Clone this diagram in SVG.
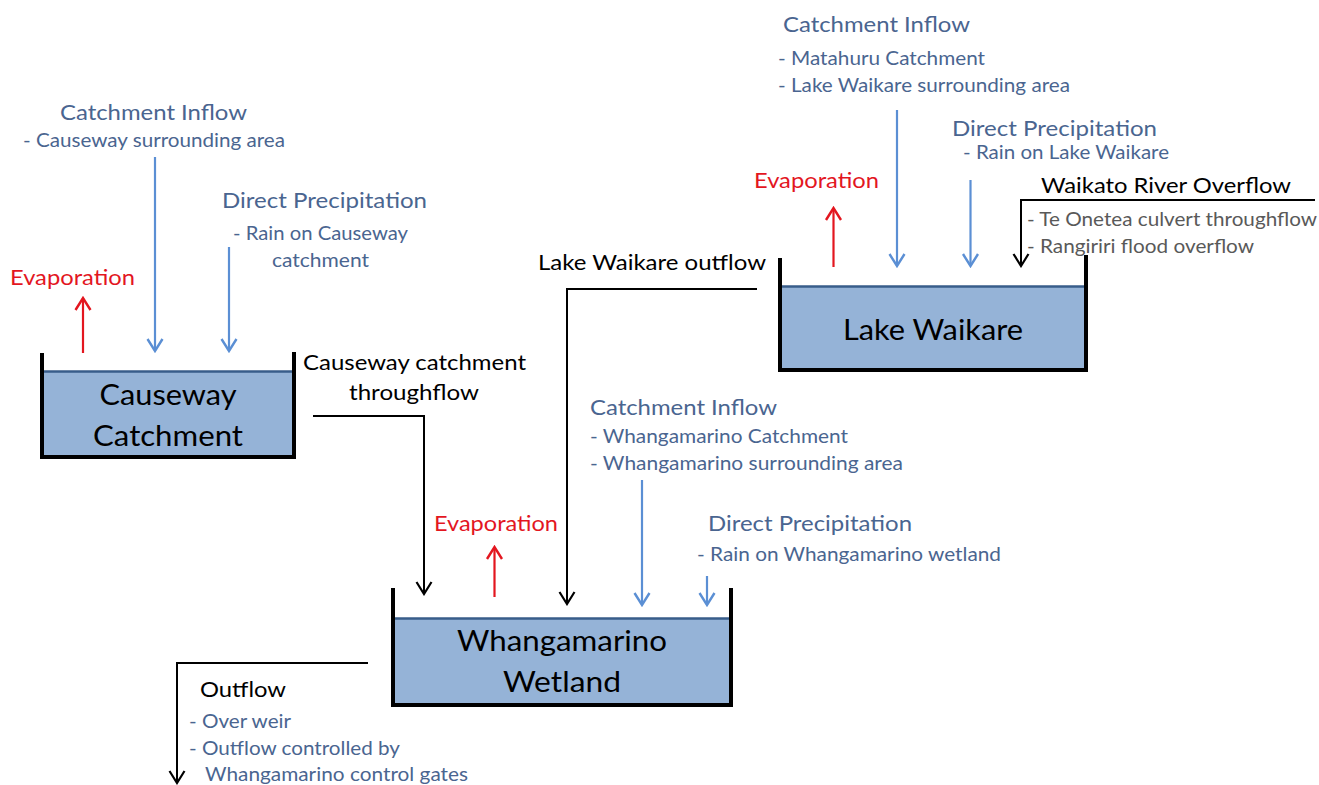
<svg xmlns="http://www.w3.org/2000/svg" width="1319" height="785" viewBox="0 0 1319 785">
<defs>
<style>
text{font-family:Lato,"Open Sans","Liberation Sans",sans-serif}
.h{font-size:21px;fill:#4a6590}
.s{font-size:19px;fill:#4a6590}
.r{font-size:21px;fill:#e3161f}
.k{font-size:21px;fill:#000}
.g{font-size:19px;fill:#595959}
.t{font-size:29px;fill:#000;text-anchor:middle}
.wall{fill:none;stroke:#000;stroke-width:4}
.water{fill:#95b3d7}
.wl{stroke:#385d8a;stroke-width:2.5}
.ab{fill:none;stroke:#5b8fd4;stroke-width:2.2;marker-end:url(#mb)}
.ar{fill:none;stroke:#e3161f;stroke-width:2.2;marker-end:url(#mr)}
.ak{fill:none;stroke:#000;stroke-width:2;marker-end:url(#mk)}
</style>
<marker id="mb" viewBox="-14 -10 16 20" refX="0" refY="0" markerWidth="16" markerHeight="20" markerUnits="userSpaceOnUse" orient="auto"><path d="M-12,-7.5 L0,0 L-12,7.5" fill="none" stroke="#5b8fd4" stroke-width="2.4"/></marker>
<marker id="mr" viewBox="-14 -10 16 20" refX="0" refY="0" markerWidth="16" markerHeight="20" markerUnits="userSpaceOnUse" orient="auto"><path d="M-12,-7.5 L0,0 L-12,7.5" fill="none" stroke="#e3161f" stroke-width="2.4"/></marker>
<marker id="mk" viewBox="-14 -10 16 20" refX="0" refY="0" markerWidth="16" markerHeight="20" markerUnits="userSpaceOnUse" orient="auto"><path d="M-12,-7.5 L0,0 L-12,7.5" fill="none" stroke="#000" stroke-width="2.2"/></marker>
</defs>
<rect width="1319" height="785" fill="#fff"/>

<g id="causeway-catchment">
<rect class="water" x="44" y="371" width="249" height="85"/>
<line class="wl" x1="44" y1="371.5" x2="293" y2="371.5"/>
<path class="wall" d="M42,353 L42,457 L294,457 L294,352"/>
<text class="t" x="168" y="405" textLength="137" lengthAdjust="spacingAndGlyphs">Causeway</text>
<text class="t" x="168" y="446" textLength="150" lengthAdjust="spacingAndGlyphs">Catchment</text>
</g>

<g id="lake-waikare">
<rect class="water" x="782" y="286" width="302" height="82"/>
<line class="wl" x1="782" y1="286.5" x2="1084" y2="286.5"/>
<path class="wall" d="M780,258 L780,370 L1086,370 L1086,255"/>
<text class="t" x="933" y="340" textLength="180" lengthAdjust="spacingAndGlyphs">Lake Waikare</text>
</g>

<g id="whangamarino-wetland">
<rect class="water" x="395" y="618" width="334" height="85"/>
<line class="wl" x1="395" y1="618.5" x2="729" y2="618.5"/>
<path class="wall" d="M393,588 L393,705 L731,705 L731,588"/>
<text class="t" x="562" y="651" textLength="210" lengthAdjust="spacingAndGlyphs">Whangamarino</text>
<text class="t" x="562" y="692" textLength="118" lengthAdjust="spacingAndGlyphs">Wetland</text>
</g>

<g id="labels">
<text class="h" x="60" y="120" textLength="187" lengthAdjust="spacingAndGlyphs">Catchment Inflow</text>
<text class="s" x="23" y="147" textLength="262" lengthAdjust="spacingAndGlyphs">- Causeway surrounding area</text>
<text class="h" x="222" y="208" textLength="205" lengthAdjust="spacingAndGlyphs">Direct Precipitation</text>
<text class="s" x="233" y="240" textLength="175" lengthAdjust="spacingAndGlyphs">- Rain on Causeway</text>
<text class="s" x="272" y="267" textLength="97" lengthAdjust="spacingAndGlyphs">catchment</text>
<text class="r" x="10" y="285" textLength="125" lengthAdjust="spacingAndGlyphs">Evaporation</text>
<text class="k" x="303" y="370" textLength="223" lengthAdjust="spacingAndGlyphs">Causeway catchment</text>
<text class="k" x="349" y="400" textLength="130" lengthAdjust="spacingAndGlyphs">throughflow</text>

<text class="h" x="783" y="32" textLength="187" lengthAdjust="spacingAndGlyphs">Catchment Inflow</text>
<text class="s" x="778" y="65" textLength="207" lengthAdjust="spacingAndGlyphs">- Matahuru Catchment</text>
<text class="s" x="778" y="92" textLength="292" lengthAdjust="spacingAndGlyphs">- Lake Waikare surrounding area</text>
<text class="h" x="952" y="136" textLength="205" lengthAdjust="spacingAndGlyphs">Direct Precipitation</text>
<text class="s" x="963" y="159" textLength="206" lengthAdjust="spacingAndGlyphs">- Rain on Lake Waikare</text>
<text class="r" x="754" y="188" textLength="125" lengthAdjust="spacingAndGlyphs">Evaporation</text>
<text class="k" x="1041" y="193" textLength="250" lengthAdjust="spacingAndGlyphs">Waikato River Overflow</text>
<text class="g" x="1027" y="226" textLength="290" lengthAdjust="spacingAndGlyphs">- Te Onetea culvert throughflow</text>
<text class="g" x="1027" y="253" textLength="227" lengthAdjust="spacingAndGlyphs">- Rangiriri flood overflow</text>
<text class="k" x="538" y="270" textLength="228" lengthAdjust="spacingAndGlyphs">Lake Waikare outflow</text>

<text class="h" x="590" y="415" textLength="187" lengthAdjust="spacingAndGlyphs">Catchment Inflow</text>
<text class="s" x="590" y="443" textLength="258" lengthAdjust="spacingAndGlyphs">- Whangamarino Catchment</text>
<text class="s" x="590" y="470" textLength="313" lengthAdjust="spacingAndGlyphs">- Whangamarino surrounding area</text>
<text class="h" x="708" y="531" textLength="204" lengthAdjust="spacingAndGlyphs">Direct Precipitation</text>
<text class="s" x="697" y="561" textLength="304" lengthAdjust="spacingAndGlyphs">- Rain on Whangamarino wetland</text>
<text class="r" x="434" y="531" textLength="124" lengthAdjust="spacingAndGlyphs">Evaporation</text>

<text class="k" x="200" y="697" textLength="86" lengthAdjust="spacingAndGlyphs">Outflow</text>
<text class="s" x="189" y="728" textLength="102" lengthAdjust="spacingAndGlyphs">- Over weir</text>
<text class="s" x="189" y="755" textLength="211" lengthAdjust="spacingAndGlyphs">- Outflow controlled by</text>
<text class="s" x="205" y="781" textLength="263" lengthAdjust="spacingAndGlyphs">Whangamarino control gates</text>
</g>

<g id="connectors">
<line class="ar" x1="83" y1="353" x2="83" y2="298"/>
<line class="ab" x1="155" y1="157" x2="155" y2="351"/>
<line class="ab" x1="229" y1="247" x2="229" y2="351"/>
<polyline class="ak" points="313,416 424,416 424,594"/>

<line class="ar" x1="833.5" y1="267" x2="833.5" y2="208"/>
<line class="ab" x1="897" y1="110" x2="897" y2="266"/>
<line class="ab" x1="970.5" y1="180" x2="970.5" y2="266"/>
<polyline class="ak" points="1315,200 1021,200 1021,266"/>
<polyline class="ak" points="757,289 567,289 567,604"/>

<line class="ar" x1="494.5" y1="597" x2="494.5" y2="547"/>
<line class="ab" x1="642" y1="480" x2="642" y2="605"/>
<line class="ab" x1="707" y1="576" x2="707" y2="605"/>
<polyline class="ak" points="368,663 177,663 177,783"/>
</g>
</svg>
